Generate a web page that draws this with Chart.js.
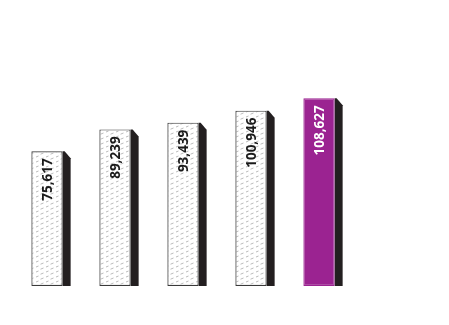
<!DOCTYPE html>
<html>
<head>
<meta charset="utf-8">
<script src="https://cdn.jsdelivr.net/npm/chart.js@4"></script>
<style>
  html, body { margin: 0; padding: 0; background: #fff; }
  #wrap { width: 449px; height: 325px; }
</style>
</head>
<body>
<div id="wrap"><canvas id="chart"></canvas></div>
<script>
// data
const categories = ['A', 'B', 'C', 'D', 'E'];
const values = [75617, 89239, 93439, 100946, 108627];
const highlightIndex = 4;
const axisMin = -8500;

const PURPLE = '#9b2391';
const SIDE = '#231f20';

// light dashed diagonal hatch for the plain bars
function makeHatch() {
    const c = document.createElement('canvas');
    c.width = 10; c.height = 5;
    const g = c.getContext('2d');
    g.fillStyle = '#fff';
    g.fillRect(0, 0, 10, 5);
    g.strokeStyle = '#b4b4b4';
    g.lineWidth = 0.9;
    g.beginPath();
    g.moveTo(0.5, 4.2); g.lineTo(3.5, 3);
    g.moveTo(6, 2); g.lineTo(8.5, 1);
    g.stroke();
    return g.createPattern(c, 'repeat');
}
const hatch = makeHatch();

// dark side face + rotated value labels
const sideAndLabels = {
    id: 'sideAndLabels',
    beforeDatasetsDraw(chart) {
        const ctx = chart.ctx;
        chart.getDatasetMeta(0).data.forEach(bar => {
            const right = bar.x + bar.width / 2;
            const d = 8;
            ctx.save();
            ctx.fillStyle = SIDE;
            ctx.beginPath();
            ctx.moveTo(right, bar.y);
            ctx.lineTo(right + 2, bar.y);
            ctx.lineTo(right + d, bar.y + 7);
            ctx.lineTo(right + d, bar.base);
            ctx.lineTo(right, bar.base);
            ctx.closePath();
            ctx.fill();
            ctx.restore();
        });
    },
    afterDatasetsDraw(chart) {
        const ctx = chart.ctx;
        chart.getDatasetMeta(0).data.forEach((bar, i) => {
            ctx.save();
            ctx.translate(bar.x + 1, bar.y + 7);
            ctx.rotate(-Math.PI / 2);
            ctx.font = 'bold 13.5px "Open Sans", sans-serif';
            ctx.fillStyle = i === highlightIndex ? '#fff' : '#1a1a1a';
            ctx.textAlign = 'right';
            ctx.textBaseline = 'middle';
            ctx.fillText(values[i].toLocaleString('en-US'), 0, 0);
            ctx.restore();
        });
    }
};

new Chart(document.getElementById('chart'), {
    type: 'bar',
    data: {
        labels: categories,
        datasets: [{
            data: values,
            base: axisMin,
            backgroundColor: values.map((v, i) => i === highlightIndex ? PURPLE : hatch),
            borderColor: values.map((v, i) => i === highlightIndex ? PURPLE : '#3a3a3a'),
            borderWidth: 1.2,
            borderSkipped: false,
            barPercentage: 0.46,
            categoryPercentage: 1
        }]
    },
    options: {
        responsive: true,
        maintainAspectRatio: false,
        animation: false,
        layout: { padding: { left: 13, right: 96, top: 0, bottom: 39 } },
        plugins: { legend: { display: false }, tooltip: { enabled: false } },
        scales: {
            x: { display: false },
            y: { display: false, min: axisMin, max: 170000 }
        }
    },
    plugins: [sideAndLabels]
});
</script>
</body>
</html>
